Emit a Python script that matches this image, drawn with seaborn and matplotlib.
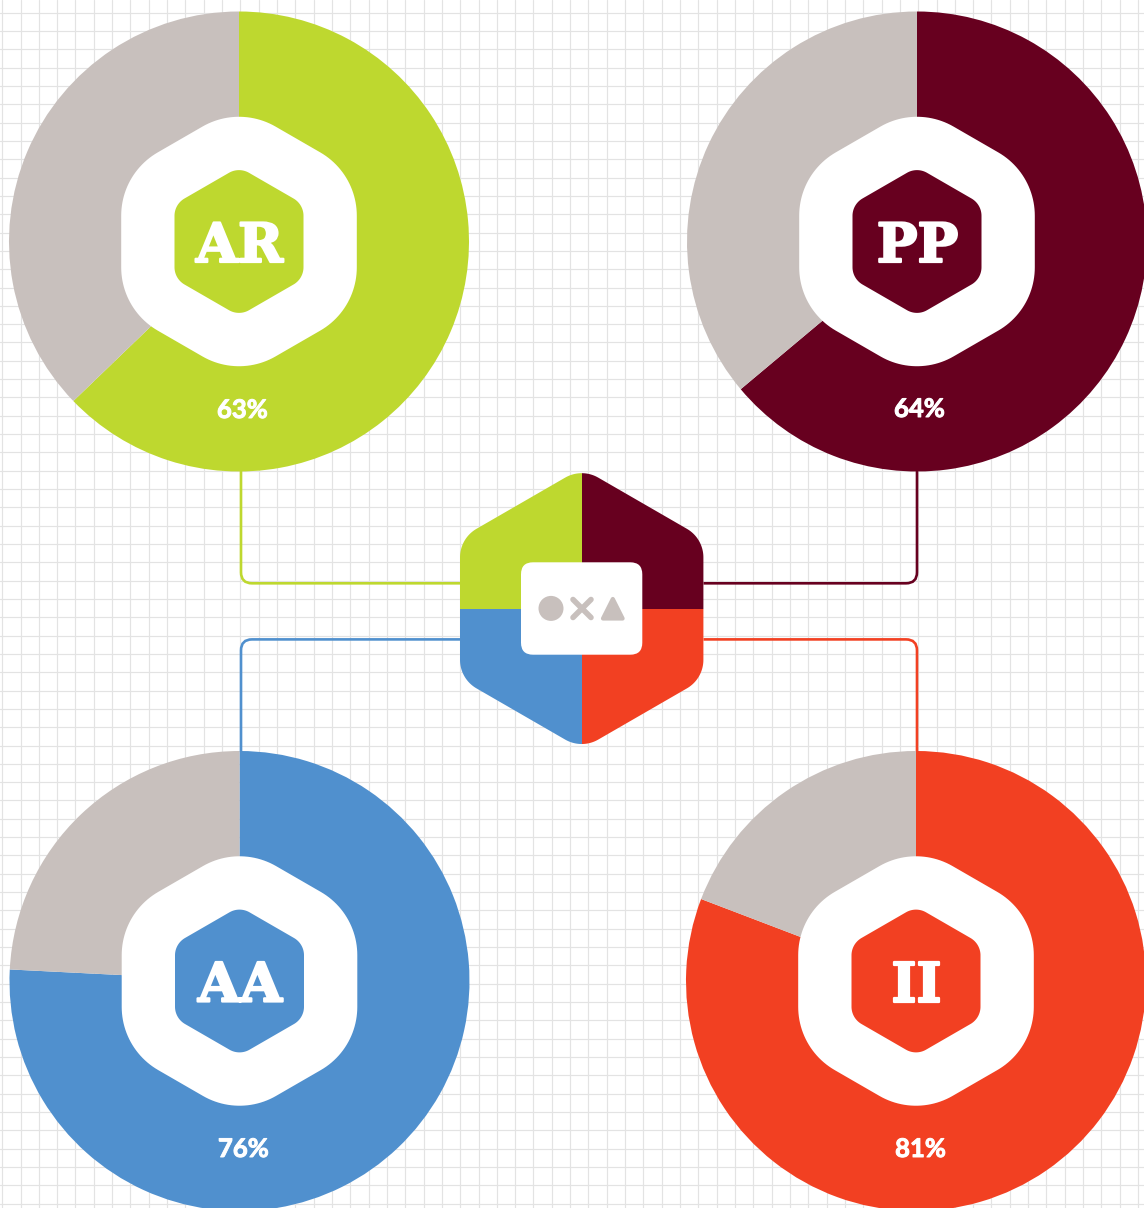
import numpy as np
import matplotlib
matplotlib.use("Agg")
import matplotlib.pyplot as plt
import matplotlib.patheffects as pe
from matplotlib.patches import PathPatch, Rectangle, Circle, FancyBboxPatch, Polygon
from matplotlib.path import Path
import seaborn as sns

# ---------- data ----------
codes = ["AR", "PP", "AA", "II"]
shares = [62.8, 63.9, 75.8, 80.8]
remainders = [37.2, 36.1, 24.2, 19.2]
share_labels = ["63%", "64%", "76%", "81%"]
hex_colors = ["#BED82F", "#67001F", "#5090CE", "#F24022"]
rest_color = "#C8C0BD"

# ---------- layout (pixels, measured from top-left) ----------
W, H = 1144, 1208
centers = [(239.0, 241.5), (917.0, 241.5), (239.5, 981.0), (916.0, 981.0)]
label_pos = [(242.5, 410.0), (919.5, 409.0), (243.5, 1149.0), (920.5, 1149.0)]
R = 230
Y = lambda y: H - y

sns.set_theme(style="whitegrid", rc={"grid.color": "#E3E3E3", "grid.linewidth": 0.85,
                                     "axes.facecolor": "white", "figure.facecolor": "white"})
palette = sns.color_palette(hex_colors)

fig = plt.figure(figsize=(W / 100, H / 100), dpi=100)
ax = fig.add_axes([0, 0, 1, 1])


def rounded_hex(cx, cy, halfw, r, n=24):
    """Pointy-top hexagon with arc-rounded corners; (cx, cy) in page pixels."""
    rv = halfw / np.cos(np.pi / 6)
    angs = np.deg2rad(np.arange(90, 450, 60))
    pts = []
    for a in angs:
        d = rv - r / np.cos(np.pi / 6)
        ox, oy = d * np.cos(a), d * np.sin(a)
        for t in np.linspace(a - np.pi / 6, a + np.pi / 6, n):
            pts.append((cx + ox + r * np.cos(t), Y(cy) + oy + r * np.sin(t)))
    pts.append(pts[0])
    return Path(pts, closed=True)


# rings
for (cx, cy), a, b, col in zip(centers, shares, remainders, palette):
    ax.pie([a, b], colors=[col, rest_color], center=(cx, Y(cy)), radius=R,
           startangle=90, counterclock=False, frame=True,
           wedgeprops={"linewidth": 0, "zorder": 3})

# hexagon badges
for (cx, cy), code, col in zip(centers, codes, palette):
    ax.add_patch(PathPatch(rounded_hex(cx, cy, 117.8, 73), fc="white", ec="none", zorder=4))
    ax.add_patch(PathPatch(rounded_hex(cx, cy, 64.5, 20), fc=col, ec="none", zorder=5))
    ax.text(cx + 0.5, Y(cy), code, color="white", fontsize=39, fontweight="bold",
            family="DejaVu Serif", ha="center", va="center_baseline", zorder=6,
            path_effects=[pe.withStroke(linewidth=1.6, foreground="white")])

# share labels
for (lx, ly), s in zip(label_pos, share_labels):
    ax.text(lx, Y(ly), s, color="white", fontsize=18.5, fontweight="bold",
            family="Lato", ha="center", va="center", zorder=6,
            path_effects=[pe.withStroke(linewidth=0.7, foreground="white")])

# connectors
hub_x, hub_y = 581.7, 608.6
hub_l, hub_r = 460, 703.5
link_top, link_bot = 583.3, 639.4
ring_bottom, ring_top = 470, 752
rr = 11
conn_color = dict(zip(codes, palette))


def connector(x0, y0, xc, yc, y1, color):
    sx = np.sign(xc - x0)
    sy = np.sign(y1 - yc)
    verts = [(x0, Y(y0)), (xc - sx * rr, Y(y0)), (xc, Y(y0)), (xc, Y(y0 + sy * rr)), (xc, Y(y1))]
    codes_ = [Path.MOVETO, Path.LINETO, Path.CURVE3, Path.CURVE3, Path.LINETO]
    ax.add_patch(PathPatch(Path(verts, codes_), fc="none", ec=color, lw=1.9, zorder=2,
                           capstyle="butt"))


connector(hub_l, link_top, 241, link_top, ring_bottom, conn_color["AR"])
connector(hub_r, link_top, 917, link_top, ring_bottom, conn_color["PP"])
connector(hub_l, link_bot, 241, link_bot, ring_top, conn_color["AA"])
connector(hub_r, link_bot, 917, link_bot, ring_top, conn_color["II"])

# central hub: four quadrants clipped by a hexagon
hub = PathPatch(rounded_hex(hub_x, hub_y, 121.7, 33), fc="none", ec="none",
                transform=ax.transData)
ax.add_patch(hub)
quads = [(hub_x - 140, hub_y - 145, "AR"), (hub_x, hub_y - 145, "PP"),
         (hub_x - 140, hub_y, "AA"), (hub_x, hub_y, "II")]
for qx, qy, code in quads:
    rect = Rectangle((qx, Y(qy + 145)), 140, 145, fc=conn_color[code], ec="none", zorder=4)
    ax.add_patch(rect)
    rect.set_clip_path(hub)

# centre key
ax.add_patch(FancyBboxPatch((531, Y(644.7)), 101.3, 72.4, boxstyle="round,pad=10,rounding_size=12",
                            fc="white", ec="none", zorder=5))
ax.add_patch(Circle((551, Y(608.4)), 12.5, fc=rest_color, ec="none", zorder=6))
ax.plot([573, 591], [Y(599.5), Y(617.5)], color=rest_color, lw=4, solid_capstyle="round", zorder=6)
ax.plot([573, 591], [Y(617.5), Y(599.5)], color=rest_color, lw=4, solid_capstyle="round", zorder=6)
ax.add_patch(Polygon([(612.8, Y(599)), (603, Y(618.5)), (622.6, Y(618.5))], closed=True,
                     fc=rest_color, ec=rest_color, lw=3, joinstyle="round", zorder=6))

# page grid
ax.set_xlim(0, W)
ax.set_ylim(0, H)
ax.set_aspect("auto")
ax.set_xticks(np.arange(2.2, W, 18.32))
ax.set_yticks(Y(np.arange(12.7, H, 18.32))[::-1])
ax.tick_params(length=0, labelbottom=False, labelleft=False)
ax.grid(True, zorder=0)
ax.set_axisbelow(True)
sns.despine(ax=ax, left=True, bottom=True)

fig.savefig("out.png", dpi=100)
